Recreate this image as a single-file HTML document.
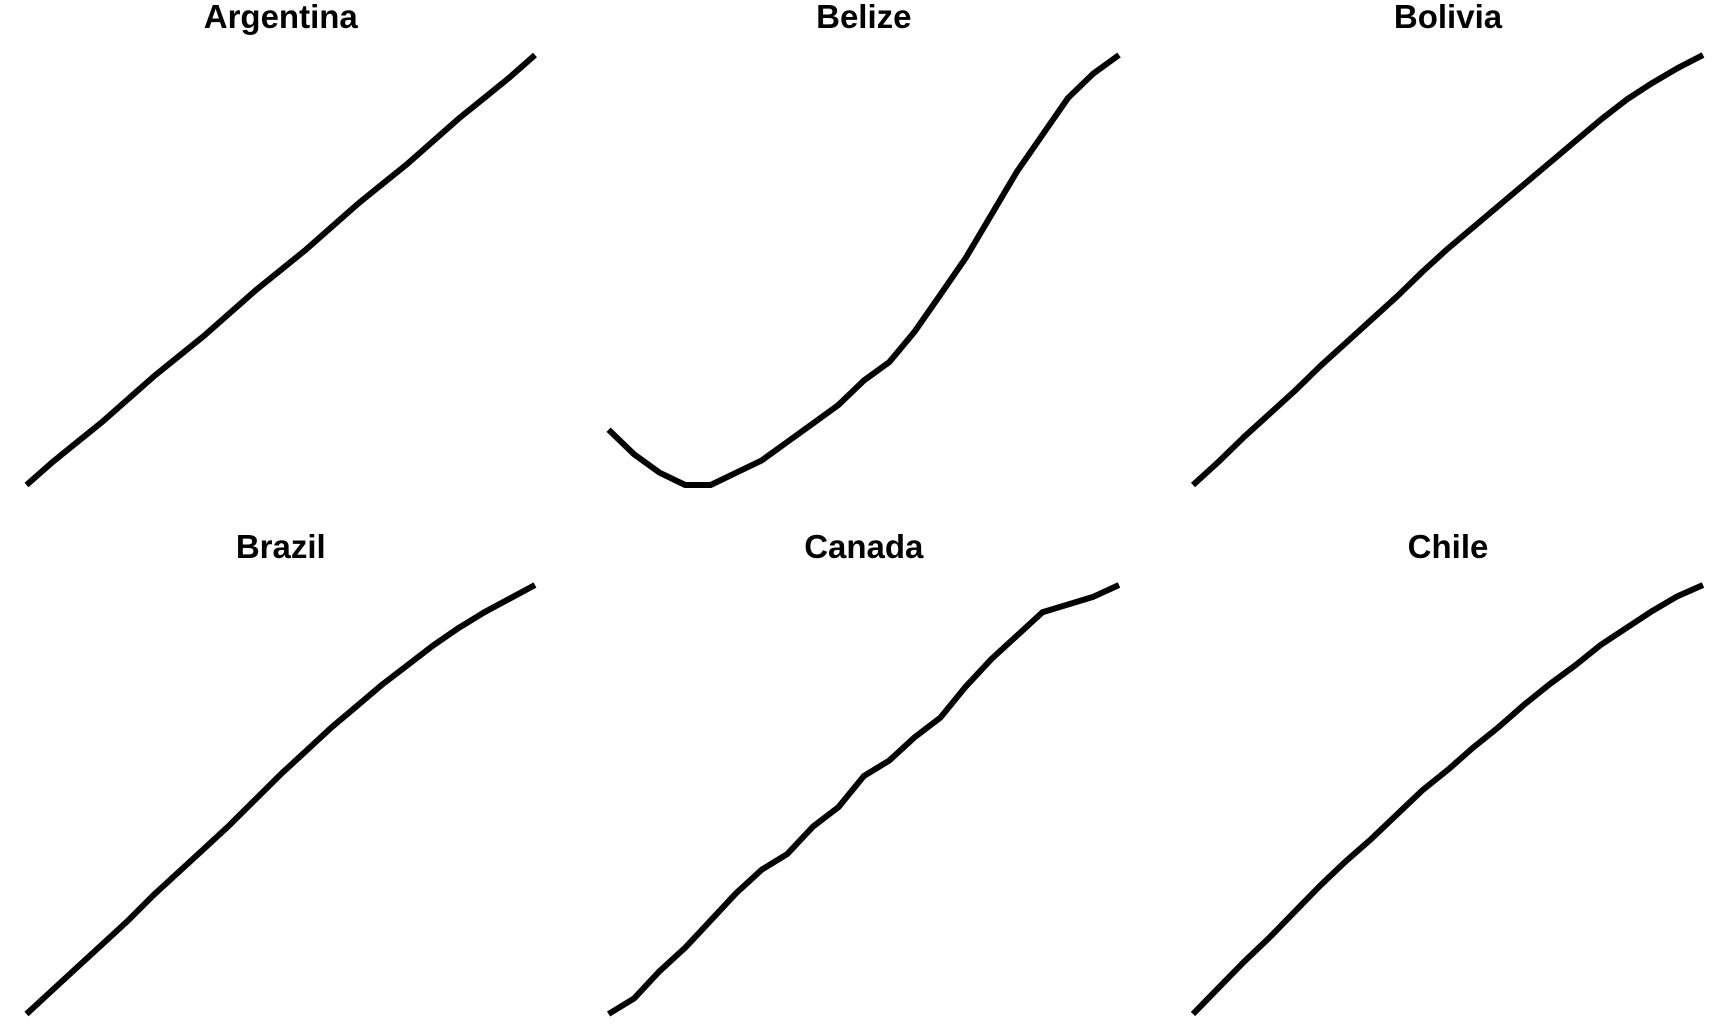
<!DOCTYPE html>
<html><head><meta charset="utf-8"><style>
html,body{margin:0;padding:0;background:#fff;}
svg{display:block;}
text{font-family:"Liberation Sans",Arial,sans-serif;font-weight:bold;font-size:33px;fill:#000;}
</style></head><body>
<svg id="chart" width="1728" height="1036" viewBox="0 0 1728 1036" xmlns="http://www.w3.org/2000/svg"></svg>
<script>
const countries = ["Argentina","Belize","Bolivia","Brazil","Canada","Chile"];
const years = [1960,1963,1966,1969,1972,1975,1978,1981,1984,1987,1990,1993,1996,1999,2002,2005,2008,2011,2014,2017,2020];
const argentina = [65.2,65.8,66.35,66.9,67.5,68.1,68.65,69.2,69.8,70.4,70.95,71.5,72.1,72.7,73.25,73.8,74.4,75.0,75.55,76.1,76.7];
const belize = [68.9,68.5,68.2,68.0,68.0,68.2,68.4,68.7,69.0,69.3,69.7,70.0,70.5,71.1,71.7,72.4,73.1,73.7,74.3,74.7,75.0];
const bolivia = [42,43.4,44.9,46.3,47.7,49.2,50.6,52.0,53.4,54.9,56.3,57.6,58.9,60.2,61.5,62.8,64.1,65.3,66.3,67.2,68];
const brazil = [54,55.2,56.4,57.6,58.8,60.1,61.3,62.5,63.7,65,66.3,67.5,68.7,69.8,70.9,71.9,72.9,73.8,74.6,75.3,76];
const canada = [71,71.4,72.1,72.7,73.4,74.1,74.7,75.1,75.8,76.3,77.1,77.5,78.1,78.6,79.4,80.1,80.7,81.3,81.5,81.7,82];
const chile = [57,58.4,59.8,61.1,62.5,63.9,65.2,66.4,67.7,69.0,70.1,71.3,72.4,73.6,74.7,75.7,76.8,77.7,78.6,79.4,80];
const seriesList = [argentina,belize,bolivia,brazil,canada,chile];

const svg = document.getElementById('chart');
const NS = 'http://www.w3.org/2000/svg';
const cols = [[26.5,535],[608.6,1119],[1193,1703]];
const rows = [[55,485],[585,1014]];
const titleY = [28,558];

countries.forEach((name,i)=>{
  const c = cols[i%3], r = rows[Math.floor(i/3)];
  const vals = seriesList[i];
  const xmin = years[0], xmax = years[years.length-1];
  const ymin = Math.min(...vals), ymax = Math.max(...vals);
  const xs = v => c[0] + (v-xmin)/(xmax-xmin)*(c[1]-c[0]);
  const ys = v => r[1] - (v-ymin)/(ymax-ymin)*(r[1]-r[0]);
  const g = document.createElementNS(NS,'g');
  
  
  const t = document.createElementNS(NS,'text');
  
  
  t.setAttribute('x', (c[0]+c[1])/2);
  t.setAttribute('y', titleY[Math.floor(i/3)]);
  t.setAttribute('text-anchor','middle');
  t.textContent = name;
  g.appendChild(t);
  const p = document.createElementNS(NS,'polyline');
  
  
  p.setAttribute('points', vals.map((v,j)=>xs(years[j]).toFixed(1)+','+ys(v).toFixed(1)).join(' '));
  p.setAttribute('fill','none');
  p.setAttribute('stroke','#000');
  p.setAttribute('stroke-width','6');
  p.setAttribute('stroke-linejoin','round');
  g.appendChild(p);
  svg.appendChild(g);
});
</script>
</body></html>
